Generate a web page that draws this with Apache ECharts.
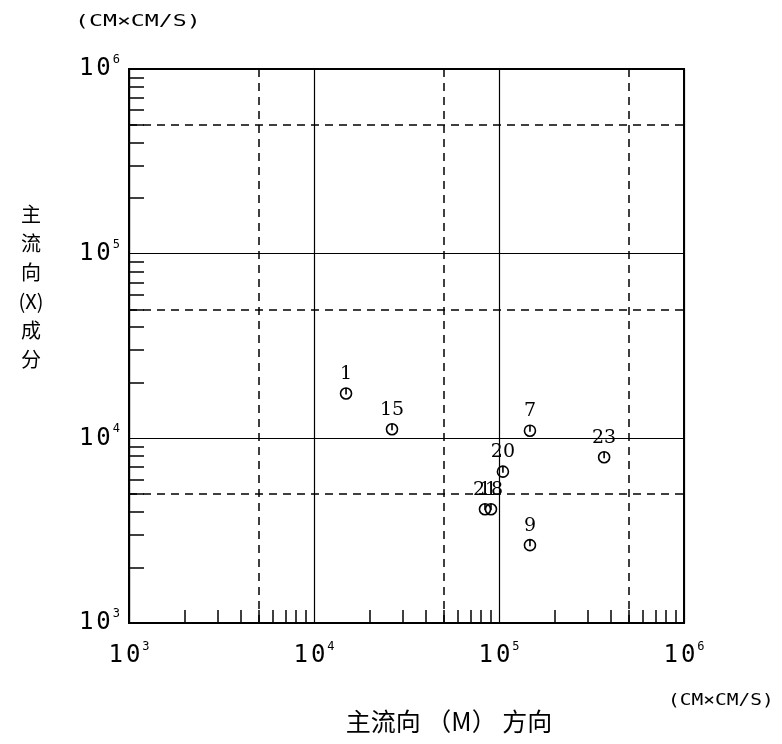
<!DOCTYPE html>
<html>
<head>
<meta charset="utf-8">
<script src="https://cdn.jsdelivr.net/npm/echarts@6/dist/echarts.min.js"></script>
<style>html,body{margin:0;padding:0;background:#fff}#c{width:782px;height:744px}</style>
</head>
<body>
<div id="c"></div>
<script>
// Data
const pointLabels = ['1', '15', '7', '23', '20', '21', '18', '9'];
const xValues = [14900, 26400, 147000, 370000, 105000, 84000, 90500, 147000];
const yValues = [17500, 11200, 11000, 7900, 6600, 4130, 4130, 2640];

const axisMin = 1000;
const axisMax = 1000000;
const dashedGrid = [5000, 50000, 500000];
const minorMultipliers = [2, 3, 4, 5, 6, 7, 8, 9];
const minorDecades = [1000, 10000, 100000];
const minorTicks = [];
minorDecades.forEach(d => minorMultipliers.forEach(m => minorTicks.push(m * d)));

const unitText = '(CM×CM/S)';
const xTitle = '主流向 （M） 方向';
const yTitle = '主\n流\n向\n(X)\n成\n分';

const chart = echarts.init(document.getElementById('c'), null, {renderer: 'canvas'});

const labelRich = {
  one: {fontFamily: 'DejaVu Sans Mono', fontSize: 24, color: '#000', lineHeight: 30, padding: [0, 3, 0, 0]},
  b: {fontFamily: 'DejaVu Sans Mono', fontSize: 24, color: '#000', lineHeight: 30},
  s: {fontFamily: 'DejaVu Sans Mono', fontSize: 12, color: '#000', lineHeight: 12, verticalAlign: 'top', padding: [0, 0, 0, 2]}
};
const fmt = v => '{one|1}{b|0}{s|' + Math.round(Math.log10(v)) + '}';

function baseAxis(extra) {
  return Object.assign({
    type: 'log', logBase: 10, min: axisMin, max: axisMax,
    axisLine: {show: false}, axisTick: {show: false}, axisLabel: {show: false},
    splitLine: {show: false}
  }, extra);
}

const mainX = baseAxis({
  position: 'bottom',
  axisLine: {show: true, onZero: false, lineStyle: {color: '#000', width: 2}},
  axisLabel: {show: true, formatter: fmt, rich: labelRich, margin: 18},
  splitLine: {show: true, lineStyle: {color: '#000', width: 1.2}}
});
const mainY = baseAxis({
  position: 'left',
  axisLine: {show: true, onZero: false, lineStyle: {color: '#000', width: 2}},
  axisLabel: {show: true, formatter: fmt, rich: labelRich, margin: 9},
  splitLine: {show: true, lineStyle: {color: '#000', width: 1.2}}
});
const minorX = baseAxis({
  position: 'bottom',
  axisTick: {show: true, inside: true, length: 13, customValues: minorTicks, lineStyle: {color: '#000', width: 1.5}}
});
const minorY = baseAxis({
  position: 'left',
  axisTick: {show: true, inside: true, length: 15, customValues: minorTicks, lineStyle: {color: '#000', width: 1.5}}
});
const dashX = baseAxis({
  position: 'bottom',
  axisTick: {show: false, customValues: dashedGrid},
  splitLine: {show: true, lineStyle: {color: '#000', width: 1.5, type: [8, 6]}}
});
const dashY = baseAxis({
  position: 'left',
  axisTick: {show: false, customValues: dashedGrid},
  splitLine: {show: true, lineStyle: {color: '#000', width: 1.5, type: [8, 6]}}
});

const option = {
  animation: false,
  backgroundColor: '#fff',
  grid: {left: 129, top: 69, width: 555, height: 554, show: true, borderColor: '#000', borderWidth: 2, backgroundColor: 'transparent'},
  xAxis: [mainX, minorX, dashX],
  yAxis: [mainY, minorY, dashY],
  graphic: [
    {type: 'text', x: 75, y: 14, scaleX: 1.45, style: {text: unitText, font: '16px "DejaVu Sans Mono"', fill: '#000'}},
    {type: 'text', x: 668, y: 694, scaleX: 1.3, style: {text: unitText, font: '15px "DejaVu Sans Mono"', fill: '#000'}},
    {type: 'text', x: 449, y: 709, style: {text: xTitle, font: '25px "Noto Sans CJK SC"', fill: '#000', align: 'center'}},
    {type: 'text', x: 31, y: 200, style: {text: yTitle, font: '20px "Noto Sans CJK SC"', fill: '#000', lineHeight: 29, align: 'center'}}
  ],
  series: [{
    type: 'scatter',
    xAxisIndex: 0, yAxisIndex: 0,
    symbol: 'path://M5,0A5,5 0 1,1 4.99,0Z M5,0L5,6',
    symbolSize: [11, 11],
    itemStyle: {color: 'none', borderColor: '#000', borderWidth: 1.6, opacity: 1},
    label: {
      show: true, position: 'top', distance: 2,
      formatter: p => pointLabels[p.dataIndex],
      fontFamily: 'DejaVu Serif', fontSize: 19, color: '#000',
      textBorderWidth: 0
    },
    data: xValues.map((x, i) => [x, yValues[i]])
  }]
};
chart.setOption(option);
</script>
</body>
</html>
